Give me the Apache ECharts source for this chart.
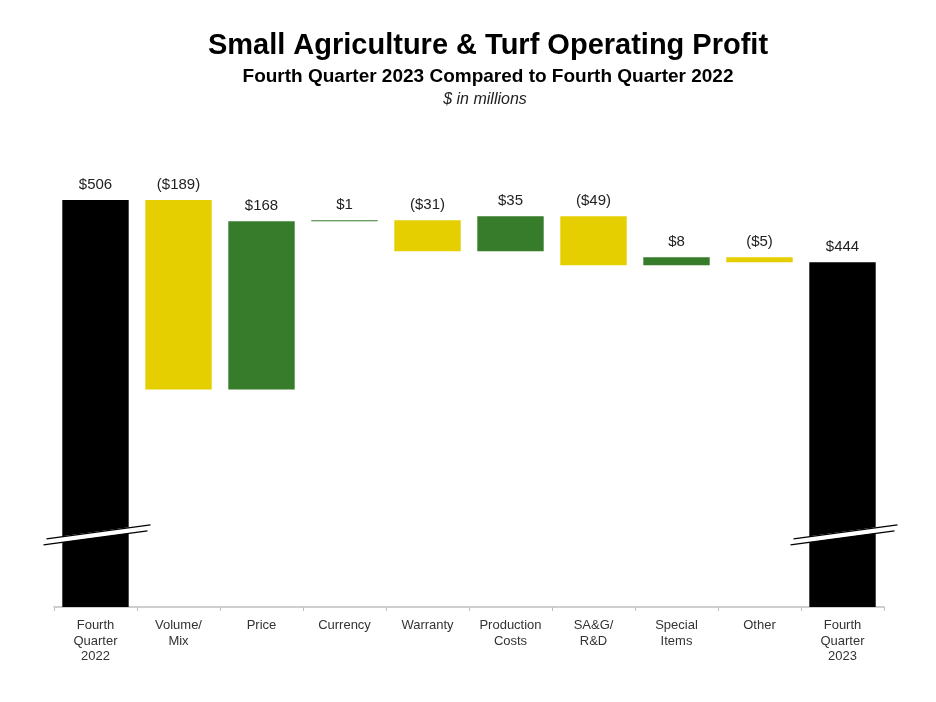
<!DOCTYPE html>
<html>
<head>
<meta charset="utf-8">
<script src="https://cdn.jsdelivr.net/npm/echarts@6/dist/echarts.min.js"></script>
<style>
  html, body { margin: 0; padding: 0; background: #fff; }
  #chart { width: 936px; height: 702px; }
</style>
</head>
<body>
<div id="chart"></div>
<script>
// 类目与数据
const categories = ['Fourth\nQuarter\n2022', 'Volume/\nMix', 'Price', 'Currency', 'Warranty',
    'Production\nCosts', 'SA&G/\nR&D', 'Special\nItems', 'Other', 'Fourth\nQuarter\n2023'];
const startTotal = 506;
const endTotal = 444;
const deltas = [-189, 168, 1, -31, 35, -49, 8, -5];

const BLACK = '#000000';
const GREEN = '#367c2b';
const YELLOW = '#e6cf00';

const fmt = v => v < 0 ? '($' + Math.abs(v) + ')' : '$' + v;

// 计算瀑布图的底座和可见部分
const base = [0];
const visible = [{ value: startTotal, itemStyle: { color: BLACK } }];
const labels = [fmt(startTotal)];
let running = startTotal;
deltas.forEach(d => {
    const next = running + d;
    base.push(Math.min(running, next));
    visible.push({ value: Math.abs(d), itemStyle: { color: d < 0 ? YELLOW : GREEN } });
    labels.push(fmt(d));
    running = next;
});
base.push(0);
visible.push({ value: endTotal, itemStyle: { color: BLACK } });
labels.push(fmt(endTotal));

const FONT = 'Arial, "Liberation Sans", sans-serif';
const TITLE_X = 483;
const chart = echarts.init(document.getElementById('chart'));

chart.setOption({
    backgroundColor: '#fff',
    animation: false,
    title: [
        { text: 'Small Agriculture & Turf Operating Profit', left: TITLE_X, textAlign: 'center', top: 26,
          textStyle: { fontFamily: FONT, fontSize: 29, fontWeight: 'bold', color: '#000' } },
        { text: 'Fourth Quarter 2023 Compared to Fourth Quarter 2022', left: TITLE_X, textAlign: 'center', top: 62,
          textStyle: { fontFamily: FONT, fontSize: 19, fontWeight: 'bold', color: '#000' } },
        { text: '$ in millions', left: TITLE_X - 3, textAlign: 'center', top: 87,
          textStyle: { fontFamily: FONT, fontSize: 16, fontStyle: 'italic', fontWeight: 'normal', color: '#222' } }
    ],
    grid: { left: 54, right: 52, top: 150, bottom: 95 },
    xAxis: {
        type: 'category',
        data: categories,
        axisLine: { lineStyle: { color: '#bfbfbf', width: 1.5 } },
        axisTick: { show: true, length: 4, lineStyle: { color: '#bfbfbf' } },
        axisLabel: { fontFamily: FONT, fontSize: 13, color: '#333', lineHeight: 15.5, margin: 11, interval: 0 }
    },
    yAxis: {
        type: 'value',
        min: 100,
        max: 556,
        show: false,
        splitLine: { show: false }
    },
    series: [
        {
            type: 'bar', stack: 'wf', barWidth: '80%',
            itemStyle: { color: 'transparent' },
            data: base,
            silent: true
        },
        {
            type: 'bar', stack: 'wf', barWidth: '80%',
            data: visible,
            label: {
                show: true, position: 'top', distance: 8,
                fontFamily: FONT, fontSize: 15, color: '#222',
                formatter: p => labels[p.dataIndex]
            }
        }
    ]
});

// 断轴标记
const drawBreaks = () => {
    const breakValue = 172;
    const els = [];
    [0, categories.length - 1].forEach(i => {
        const c = chart.convertToPixel({ gridIndex: 0 }, [i, breakValue]);
        const x0 = c[0] - 52, x1 = c[0] + 52;
        const rise = 7;
        const gap = 3;
        els.push({
            type: 'polygon',
            shape: { points: [[x0, c[1] + rise - gap], [x1, c[1] - rise - gap], [x1, c[1] - rise + gap], [x0, c[1] + rise + gap]] },
            style: { fill: '#fff' }, z: 100
        });
        els.push({
            type: 'line', shape: { x1: x0 + 3, y1: c[1] + rise - gap, x2: x1 + 3, y2: c[1] - rise - gap },
            style: { stroke: '#000', lineWidth: 1.3 }, z: 101
        });
        els.push({
            type: 'line', shape: { x1: x0, y1: c[1] + rise + gap, x2: x1, y2: c[1] - rise + gap },
            style: { stroke: '#000', lineWidth: 1.3 }, z: 101
        });
    });
    chart.setOption({ graphic: els });
};
drawBreaks();
</script>
</body>
</html>
